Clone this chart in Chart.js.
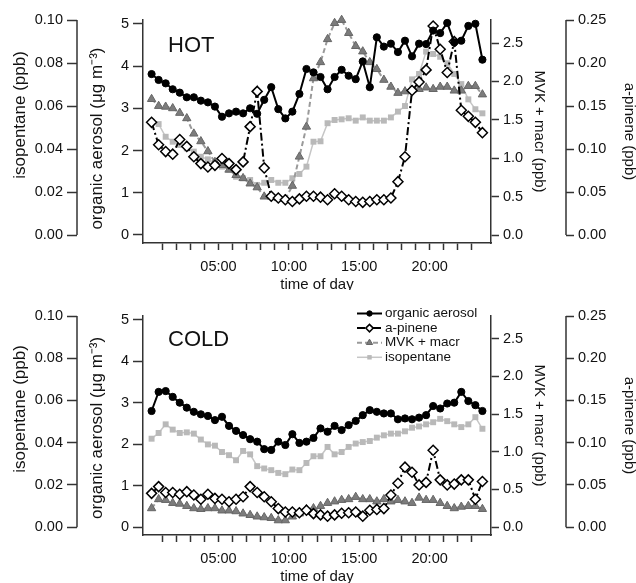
<!DOCTYPE html>
<html><head><meta charset="utf-8">
<script src="https://cdn.jsdelivr.net/npm/chart.js@4"></script>
<style>
html,body{margin:0;padding:0;background:#fff;}
#wrap{position:relative;width:636px;height:583px;overflow:hidden;}
canvas{position:absolute;left:0;}
</style></head><body>
<div id="wrap">
<canvas id="hot" width="636" height="290" style="top:0"></canvas>
<canvas id="cold" width="636" height="293" style="top:290px"></canvas>
</div>
<script>
// ---- categories / ticks ----
const hours = [0.25,0.75,1.25,1.75,2.25,2.75,3.25,3.75,4.25,4.75,5.25,5.75,6.25,6.75,7.25,7.75,8.25,8.75,9.25,9.75,10.25,10.75,11.25,11.75,12.25,12.75,13.25,13.75,14.25,14.75,15.25,15.75,16.25,16.75,17.25,17.75,18.25,18.75,19.25,19.75,20.25,20.75,21.25,21.75,22.25,22.75,23.25,23.75];
const hourTicks = [1,2,3,4,5,6,7,8,9,10,11,12,13,14,15,16,17,18,19,20,21,22,23];
const hourLabels = {5:'05:00',10:'10:00',15:'15:00',20:'20:00'};
const aerosolTicks = [0,1,2,3,4,5];
const isoTicks = [0,0.02,0.04,0.06,0.08,0.10];
const mvkTicks = [0,0.5,1.0,1.5,2.0,2.5];
const apTicks = [0,0.05,0.10,0.15,0.20,0.25];
const seriesNames = ['organic aerosol','a-pinene','MVK + macr','isopentane'];

// ---- HOT ----
const hotAerosol = [3.81,3.67,3.59,3.45,3.37,3.26,3.26,3.18,3.14,3.04,2.80,2.88,2.92,2.88,3.00,2.87,3.20,3.50,2.98,2.76,2.92,3.34,3.93,3.85,3.74,3.45,3.74,3.91,3.77,3.69,4.11,3.50,4.68,4.46,4.53,4.33,4.60,4.23,4.53,4.52,4.84,4.78,5.02,4.56,4.60,4.95,5.00,4.15];
const hotApinene = [0.131,0.105,0.097,0.094,0.111,0.103,0.091,0.083,0.079,0.081,0.089,0.083,0.076,0.085,0.126,0.167,0.078,0.045,0.043,0.041,0.039,0.042,0.045,0.045,0.044,0.041,0.048,0.045,0.041,0.039,0.038,0.039,0.041,0.041,0.043,0.062,0.091,0.168,0.178,0.192,0.243,0.216,0.189,0.225,0.145,0.138,0.131,0.119];
const hotMvk = [1.77,1.68,1.67,1.65,1.59,1.52,1.32,1.22,1.09,0.95,0.91,0.85,0.78,0.74,0.67,0.62,0.50,0.50,0.48,0.47,0.64,1.02,1.41,2.04,2.25,2.55,2.76,2.80,2.63,2.46,2.39,2.25,2.16,2.02,1.93,1.85,1.87,1.89,1.90,1.92,1.90,1.93,1.93,1.88,1.88,1.94,1.94,1.83];
const hotIso = [0.0527,0.0516,0.0457,0.0434,0.0419,0.0403,0.0388,0.0364,0.0352,0.0336,0.0318,0.0305,0.0271,0.0264,0.0256,0.0233,0.0243,0.0256,0.0243,0.0243,0.0264,0.0284,0.0318,0.0434,0.0436,0.0520,0.0535,0.0538,0.0543,0.0532,0.0547,0.0532,0.0532,0.0532,0.0547,0.0574,0.0600,0.0724,0.0749,0.0853,0.0842,0.0829,0.0799,0.0749,0.0702,0.0631,0.0585,0.0566];

// ---- COLD ----
const coldAerosol = [2.80,3.26,3.28,3.14,3.00,2.88,2.78,2.72,2.68,2.58,2.66,2.44,2.32,2.22,2.12,2.06,1.88,1.86,2.06,1.98,2.24,2.03,2.06,2.15,2.38,2.30,2.44,2.34,2.46,2.56,2.70,2.82,2.78,2.74,2.74,2.60,2.62,2.60,2.64,2.70,2.92,2.86,2.98,3.00,3.26,3.04,2.94,2.80];
const coldApinene = [0.040,0.048,0.041,0.041,0.039,0.042,0.038,0.033,0.039,0.034,0.033,0.030,0.033,0.036,0.048,0.041,0.036,0.030,0.022,0.018,0.018,0.017,0.020,0.016,0.0145,0.013,0.0145,0.0165,0.017,0.018,0.013,0.020,0.021,0.022,0.038,0.052,0.071,0.065,0.050,0.053,0.091,0.056,0.050,0.051,0.056,0.056,0.033,0.054];
const coldMvk = [0.25,0.37,0.36,0.32,0.31,0.28,0.25,0.24,0.25,0.25,0.22,0.22,0.21,0.18,0.16,0.14,0.13,0.12,0.09,0.09,0.14,0.18,0.24,0.25,0.28,0.32,0.34,0.36,0.37,0.40,0.37,0.37,0.34,0.37,0.34,0.36,0.34,0.32,0.39,0.36,0.36,0.32,0.28,0.25,0.27,0.28,0.28,0.24];
const coldIso = [0.0419,0.0446,0.0487,0.0462,0.0446,0.0449,0.0443,0.0415,0.0392,0.0386,0.0356,0.0341,0.0317,0.0361,0.0345,0.0289,0.0278,0.0270,0.0257,0.0251,0.0273,0.0270,0.0304,0.0336,0.0336,0.0380,0.0345,0.0356,0.0380,0.0396,0.0403,0.0408,0.0424,0.0435,0.0443,0.0443,0.0454,0.0471,0.0477,0.0487,0.0497,0.0513,0.0502,0.0487,0.0474,0.0487,0.0521,0.0466];

const FONT = '"Liberation Sans", Arial, Helvetica, sans-serif';
const AX = '#333';

function setTicks(vals){ return s => { s.ticks = vals.map(v => ({value: v})); }; }
function fixW(w){ return s => { s.width = w; }; }
function fixH(h){ return s => { s.height = h; }; }

function yAxis(o){
  return {
    type: 'linear', position: o.pos, weight: o.weight, min: o.min, max: o.max,
    afterBuildTicks: setTicks(o.ticks), afterFit: fixW(o.w),
    ticks: {callback: v => v.toFixed(o.dec), padding: o.pad, color: '#111', font: {family: FONT, size: 14.5}},
    grid: {display: true, drawOnChartArea: false, drawTicks: true, tickLength: o.tl, tickColor: AX, tickWidth: 1.5},
    border: {display: o.border, color: AX, width: 1.5},
    title: {display: true, text: o.title, color: '#111', font: {family: FONT, size: o.tsize, lineHeight: 1}, padding: {top: o.tpad, bottom: 0}}
  };
}

function makeScales(xh, shiftA){
  return {
    x: {
      type: 'linear', position: 'bottom', min: -0.36, max: 24.36,
      afterBuildTicks: setTicks(hourTicks), afterFit: fixH(xh),
      ticks: {autoSkip: false, maxRotation: 0, padding: 8, color: '#111', font: {family: FONT, size: 14.5}, callback: v => hourLabels[v] || ''},
      grid: {display: true, drawOnChartArea: false, tickLength: 7, tickColor: AX, tickWidth: 1.5},
      border: {color: AX, width: 1.5},
      title: {display: true, text: 'time of day', color: '#111', font: {family: FONT, size: 15, lineHeight: 1}, padding: {top: 0, bottom: xh - 42 - 7.5}}
    },
    yA: yAxis({pos: 'left', weight: 1, min: -0.19, max: 5.09, ticks: aerosolTicks, w: 66, dec: 0, pad: 4, tl: 10, border: true, title: 'organic aerosol (\u03bcg m\u207b\u00b3)' + shiftA, tsize: 17, tpad: 11.5}),
    yI: yAxis({pos: 'left', weight: 2, min: -0.0037, max: 0.1, ticks: isoTicks, w: 77, dec: 2, pad: 4, tl: 10, border: false, title: '       isopentane (ppb)', tsize: 17, tpad: 11.5}),
    yM: yAxis({pos: 'right', weight: 1, min: -0.104, max: 2.8, ticks: mvkTicks, w: 75, dec: 1, pad: 4, tl: 8, border: true, title: 'MVK + macr (ppb)', tsize: 15, tpad: 19.5}),
    yP: yAxis({pos: 'right', weight: 2, min: -0.0093, max: 0.25, ticks: apTicks, w: 70, dec: 2, pad: 4, tl: 8, border: false, title: 'a-pinene (ppb)', tsize: 15, tpad: -1})
  };
}

function pts(arr){ return hours.map((h, i) => ({x: h, y: arr[i]})); }

function makeDatasets(a, p, m, iso){
  return [
    {label: seriesNames[0], data: pts(a), yAxisID: 'yA', borderColor: '#000', borderWidth: 2,
     pointStyle: 'circle', pointRadius: 3.6, pointBackgroundColor: '#000', pointBorderColor: '#000', pointBorderWidth: 1, clip: false},
    {label: seriesNames[1], data: pts(p), yAxisID: 'yP', borderColor: '#000', borderWidth: 2, borderDash: [8,3,2,3],
     pointStyle: 'rectRot', pointRadius: 5, pointBackgroundColor: '#fff', pointBorderColor: '#000', pointBorderWidth: 1.5, clip: false},
    {label: seriesNames[2], data: pts(m), yAxisID: 'yM', borderColor: '#9a9a9a', borderWidth: 2, borderDash: [5,3],
     pointStyle: 'triangle', pointRadius: 4.8, pointBackgroundColor: '#7c7c7c', pointBorderColor: '#666', pointBorderWidth: 1, clip: false},
    {label: seriesNames[3], data: pts(iso), yAxisID: 'yI', borderColor: '#c6c6c6', borderWidth: 1.5,
     pointStyle: 'rect', pointRadius: 4.2, pointBackgroundColor: '#b9b9b9', pointBorderColor: '#b9b9b9', pointBorderWidth: 0, clip: false}
  ];
}

// partial axis lines (only across tick range) for the offset axes
const partialAxis = {
  id: 'partialAxis',
  afterDraw(chart){
    const ctx = chart.ctx;
    ctx.save();
    ctx.strokeStyle = AX; ctx.lineWidth = 1.5;
    [['yI', 'right'], ['yP', 'left']].forEach(([id, side]) => {
      const s = chart.scales[id];
      const t = s.ticks;
      const x = s[side];
      ctx.beginPath();
      ctx.moveTo(x, s.getPixelForValue(t[0].value));
      ctx.lineTo(x, s.getPixelForValue(t[t.length - 1].value));
      ctx.stroke();
    });
    ctx.restore();
  }
};

const panelLabel = {
  id: 'panelLabel',
  afterDraw(chart, args, opts){
    const ctx = chart.ctx;
    ctx.save();
    ctx.font = '22px ' + FONT;
    ctx.fillStyle = '#111';
    ctx.textBaseline = 'alphabetic';
    ctx.fillText(opts.text, opts.x, opts.y);
    ctx.restore();
  }
};

const boxLegend = {
  id: 'boxLegend',
  afterDraw(chart, args, opts){
    if (!opts.show) return;
    const ctx = chart.ctx;
    ctx.save();
    chart.data.datasets.forEach((d, i) => {
      const y = opts.y + i * opts.dy;
      ctx.strokeStyle = d.borderColor;
      ctx.lineWidth = d.borderWidth;
      ctx.setLineDash(d.borderDash || []);
      ctx.beginPath();
      ctx.moveTo(opts.x0, y); ctx.lineTo(opts.x1, y);
      ctx.stroke();
      ctx.setLineDash([]);
      ctx.fillStyle = d.pointBackgroundColor;
      ctx.strokeStyle = d.pointBorderColor;
      ctx.lineWidth = d.pointBorderWidth;
      Chart.helpers.drawPoint(ctx, {pointStyle: d.pointStyle, radius: d.pointRadius * 0.75, rotation: 0, borderWidth: d.pointBorderWidth}, (opts.x0 + opts.x1) / 2, y);
      ctx.fillStyle = '#111';
      ctx.font = '13.5px ' + FONT;
      ctx.textBaseline = 'middle';
      ctx.fillText(d.label, opts.tx, y);
    });
    ctx.restore();
  }
};

function build(id, padTop, xh, data, label, showLegend, shiftA){
  new Chart(document.getElementById(id), {
    type: 'line',
    data: {datasets: makeDatasets(...data)},
    options: {
      responsive: false, animation: false, devicePixelRatio: 1, events: [],
      layout: {padding: {top: padTop, left: 0, right: 0, bottom: 0}},
      scales: makeScales(xh, shiftA),
      plugins: {
        legend: {display: false}, tooltip: {enabled: false},
        panelLabel: label,
        boxLegend: {show: showLegend, x0: 357, x1: 382, tx: 385, y: 23.5, dy: 14.6}
      }
    },
    plugins: [partialAxis, panelLabel, boxLegend]
  });
}

build('hot', 20, 47, [hotAerosol, hotApinene, hotMvk, hotIso], {text: 'HOT', x: 168, y: 52}, false, '   ');
build('cold', 26, 48, [coldAerosol, coldApinene, coldMvk, coldIso], {text: 'COLD', x: 168, y: 56}, true, ' ');
</script>
</body></html>
